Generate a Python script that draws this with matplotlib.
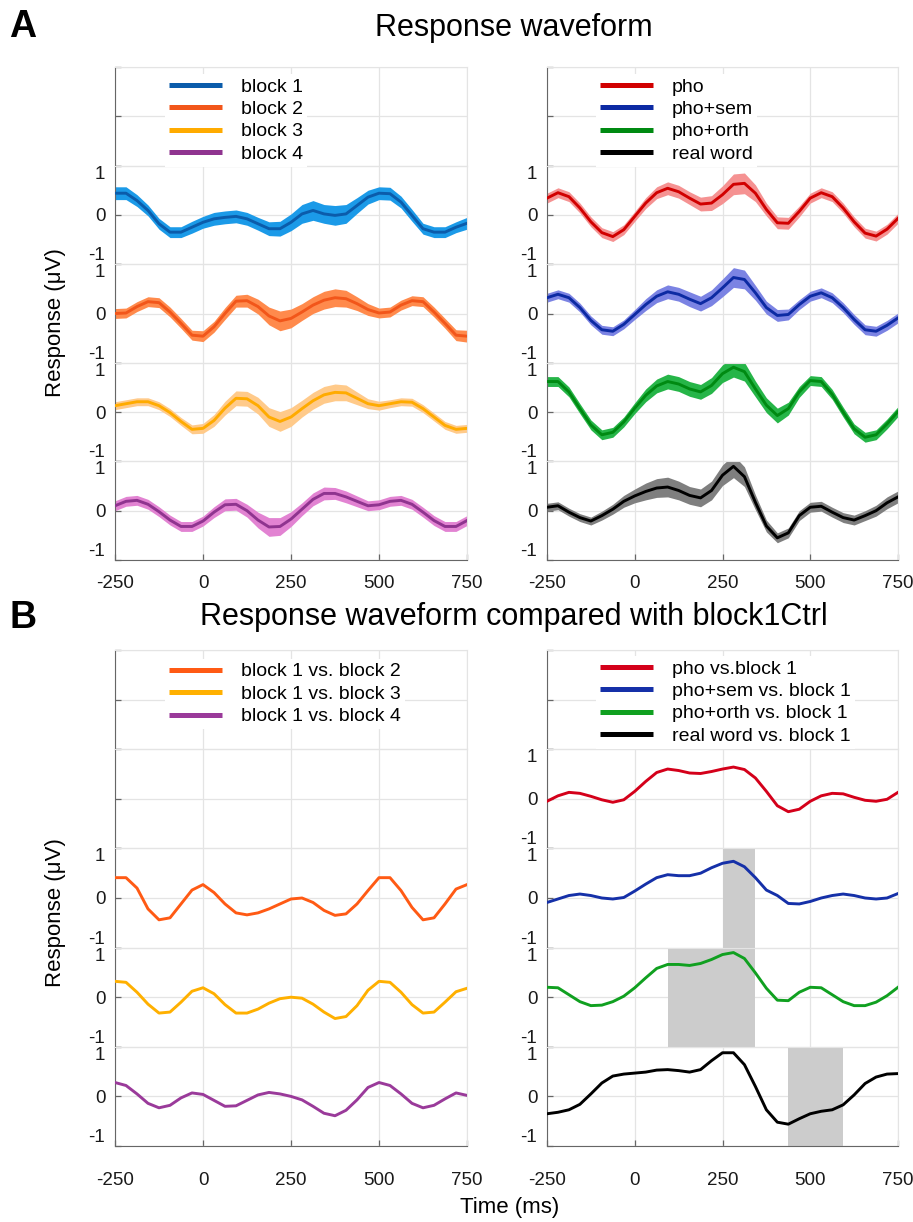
import numpy as np
import matplotlib
matplotlib.use('Agg')
import matplotlib.pyplot as plt
from matplotlib.lines import Line2D

plt.rcParams['font.family'] = ['Liberation Sans', 'DejaVu Sans']

# ---------------- data ----------------
time_ms = [-250.0, -218.75, -187.5, -156.25, -125.0, -93.75, -62.5, -31.25, 0.0,
           31.25, 62.5, 93.75, 125.0, 156.25, 187.5, 218.75, 250.0, 281.25, 312.5,
           343.75, 375.0, 406.25, 437.5, 468.75, 500.0, 531.25, 562.5, 593.75,
           625.0, 656.25, 687.5, 718.75, 750.0]
xtick_vals = [-250, 0, 250, 500, 750]
xtick_labels = ['-250', '0', '250', '500', '750']

# Panel A left: block waveforms (mean) and half-width of shaded band
block_names = ['block 1', 'block 2', 'block 3', 'block 4']
block1 = [0.44, 0.44, 0.29, 0.09, -0.18, -0.35, -0.35, -0.25, -0.15, -0.08, -0.05, -0.03, -0.08,
          -0.18, -0.28, -0.28, -0.15, 0.02, 0.09, 0.02, -0.01, 0.02, 0.19, 0.36, 0.44, 0.43,
          0.26, -0.01, -0.28, -0.35, -0.35, -0.25, -0.17]
block2 = [0.0, 0.01, 0.14, 0.24, 0.22, 0.03, -0.2, -0.44, -0.46, -0.27, 0.0, 0.25, 0.26, 0.14,
          -0.05, -0.15, -0.1, 0.03, 0.17, 0.27, 0.32, 0.3, 0.2, 0.08, 0.01, 0.03, 0.17, 0.26,
          0.24, 0.03, -0.2, -0.44, -0.46]
block3 = [0.13, 0.17, 0.21, 0.21, 0.13, -0.01, -0.19, -0.35, -0.33, -0.17, 0.08, 0.28, 0.27,
          0.13, -0.1, -0.19, -0.1, 0.07, 0.23, 0.35, 0.4, 0.39, 0.28, 0.17, 0.13, 0.17, 0.21,
          0.2, 0.07, -0.1, -0.27, -0.35, -0.33]
block4 = [0.1, 0.19, 0.21, 0.13, -0.02, -0.19, -0.32, -0.32, -0.21, -0.03, 0.12, 0.13, 0.0,
          -0.19, -0.33, -0.32, -0.17, 0.03, 0.23, 0.35, 0.35, 0.28, 0.19, 0.1, 0.12, 0.19, 0.21,
          0.13, -0.03, -0.2, -0.32, -0.32, -0.2]
block1_hw = [0.13, 0.13, 0.12, 0.11, 0.11, 0.11, 0.11, 0.12, 0.12, 0.13, 0.13, 0.13, 0.13, 0.13,
             0.14, 0.15, 0.17, 0.19, 0.2, 0.19, 0.2, 0.19, 0.16, 0.14, 0.13, 0.13, 0.12, 0.12,
             0.11, 0.11, 0.11, 0.11, 0.12]
block2_hw = [0.1, 0.1, 0.1, 0.1, 0.1, 0.1, 0.1, 0.1, 0.11, 0.11, 0.12, 0.12, 0.13, 0.15, 0.18,
             0.2, 0.19, 0.17, 0.17, 0.18, 0.18, 0.17, 0.14, 0.12, 0.1, 0.1, 0.1, 0.1, 0.1, 0.1,
             0.1, 0.11, 0.12]
block3_hw = [0.08, 0.08, 0.08, 0.08, 0.08, 0.08, 0.08, 0.09, 0.1, 0.12, 0.14, 0.15, 0.15, 0.17,
             0.19, 0.2, 0.19, 0.17, 0.17, 0.17, 0.17, 0.16, 0.13, 0.1, 0.09, 0.08, 0.08, 0.08,
             0.08, 0.08, 0.08, 0.08, 0.08]
block4_hw = [0.1, 0.1, 0.1, 0.1, 0.1, 0.1, 0.1, 0.1, 0.1, 0.11, 0.12, 0.12, 0.13, 0.16, 0.19,
             0.18, 0.15, 0.13, 0.13, 0.13, 0.12, 0.12, 0.11, 0.1, 0.1, 0.1, 0.1, 0.1, 0.1, 0.1,
             0.1, 0.1, 0.1]

# Panel A right: condition waveforms
cond_names = ['pho', 'pho+sem', 'pho+orth', 'real word']
pho = [0.34, 0.45, 0.37, 0.14, -0.14, -0.36, -0.44, -0.3, -0.03, 0.24, 0.45, 0.54, 0.47, 0.34,
       0.22, 0.24, 0.41, 0.62, 0.64, 0.44, 0.11, -0.16, -0.17, 0.07, 0.34, 0.45, 0.37, 0.14,
       -0.14, -0.37, -0.43, -0.29, -0.07]
pho_sem = [0.32, 0.39, 0.32, 0.12, -0.14, -0.33, -0.36, -0.22, -0.02, 0.18, 0.35, 0.44, 0.39,
           0.29, 0.2, 0.32, 0.52, 0.73, 0.69, 0.42, 0.12, -0.04, -0.02, 0.18, 0.35, 0.42, 0.32,
           0.12, -0.12, -0.33, -0.36, -0.24, -0.09]
pho_orth = [0.62, 0.62, 0.41, 0.07, -0.26, -0.46, -0.41, -0.2, 0.08, 0.34, 0.53, 0.62, 0.57,
            0.47, 0.41, 0.54, 0.78, 0.91, 0.82, 0.47, 0.14, -0.07, 0.07, 0.41, 0.64, 0.62, 0.36,
            0.0, -0.34, -0.51, -0.46, -0.24, 0.01]
real_word = [0.07, 0.1, -0.03, -0.14, -0.21, -0.1, 0.03, 0.19, 0.3, 0.39, 0.46, 0.48, 0.41,
             0.31, 0.26, 0.41, 0.72, 0.9, 0.69, 0.17, -0.31, -0.55, -0.45, -0.1, 0.07, 0.09,
             -0.03, -0.14, -0.19, -0.1, 0.0, 0.16, 0.28]
pho_hw = [0.1, 0.1, 0.1, 0.1, 0.1, 0.1, 0.1, 0.1, 0.1, 0.11, 0.12, 0.13, 0.13, 0.13, 0.14, 0.15,
          0.18, 0.21, 0.21, 0.17, 0.13, 0.12, 0.12, 0.11, 0.1, 0.1, 0.1, 0.1, 0.1, 0.1, 0.1,
          0.1, 0.1]
pho_sem_hw = [0.09, 0.09, 0.09, 0.09, 0.09, 0.09, 0.09, 0.09, 0.1, 0.12, 0.13, 0.14, 0.14, 0.15,
              0.15, 0.16, 0.18, 0.2, 0.19, 0.15, 0.13, 0.12, 0.11, 0.1, 0.1, 0.1, 0.1, 0.1, 0.1,
              0.1, 0.1, 0.1, 0.1]
pho_orth_hw = [0.1, 0.1, 0.1, 0.1, 0.1, 0.1, 0.1, 0.1, 0.11, 0.13, 0.14, 0.15, 0.15, 0.15, 0.15,
               0.16, 0.18, 0.2, 0.19, 0.16, 0.15, 0.15, 0.13, 0.11, 0.1, 0.1, 0.1, 0.1, 0.1, 0.1,
               0.1, 0.1, 0.1]
real_word_hw = [0.08, 0.08, 0.08, 0.08, 0.08, 0.09, 0.1, 0.12, 0.14, 0.17, 0.19, 0.2, 0.19, 0.18,
                0.18, 0.19, 0.21, 0.23, 0.2, 0.15, 0.12, 0.1, 0.1, 0.1, 0.1, 0.1, 0.1, 0.1, 0.1,
                0.1, 0.11, 0.12, 0.12]

# Panel B left: differences from block 1
diff_block_names = ['block 1 vs. block 2', 'block 1 vs. block 3', 'block 1 vs. block 4']
b1_vs_b2 = [0.41, 0.41, 0.2, -0.22, -0.44, -0.4, -0.12, 0.16, 0.27, 0.11, -0.12, -0.3, -0.34,
            -0.3, -0.22, -0.12, -0.02, 0.0, -0.09, -0.25, -0.35, -0.32, -0.12, 0.15, 0.41, 0.41,
            0.15, -0.19, -0.44, -0.4, -0.12, 0.18, 0.27]
b1_vs_b3 = [0.32, 0.3, 0.1, -0.14, -0.32, -0.3, -0.1, 0.12, 0.19, 0.07, -0.15, -0.32, -0.32,
            -0.24, -0.12, -0.03, 0.0, -0.02, -0.14, -0.3, -0.43, -0.39, -0.17, 0.14, 0.32, 0.3,
            0.1, -0.15, -0.32, -0.3, -0.1, 0.11, 0.18]
b1_vs_b4 = [0.28, 0.22, 0.05, -0.14, -0.23, -0.18, -0.03, 0.07, 0.04, -0.08, -0.2, -0.19, -0.08,
            0.03, 0.08, 0.05, 0.0, -0.07, -0.2, -0.34, -0.39, -0.28, -0.07, 0.18, 0.28, 0.22,
            0.05, -0.14, -0.23, -0.18, -0.05, 0.07, 0.02]

# Panel B right: conditions vs block 1
diff_cond_names = ['pho vs.block 1', 'pho+sem vs. block 1', 'pho+orth vs. block 1',
                   'real word vs. block 1']
pho_vs_b1 = [-0.05, 0.06, 0.13, 0.11, 0.05, -0.02, -0.07, -0.02, 0.15, 0.35, 0.53, 0.6, 0.57,
             0.52, 0.51, 0.55, 0.6, 0.64, 0.59, 0.42, 0.15, -0.14, -0.26, -0.21, -0.05, 0.06,
             0.11, 0.1, 0.03, -0.03, -0.05, -0.01, 0.13]
sem_vs_b1 = [-0.09, -0.02, 0.05, 0.08, 0.05, 0.0, -0.02, 0.01, 0.14, 0.28, 0.41, 0.47, 0.45,
             0.45, 0.5, 0.61, 0.7, 0.74, 0.63, 0.41, 0.16, 0.05, -0.11, -0.12, -0.07, 0.0,
             0.05, 0.08, 0.05, 0.0, -0.02, 0.0, 0.09]
orth_vs_b1 = [0.2, 0.19, 0.05, -0.09, -0.17, -0.16, -0.09, 0.02, 0.19, 0.39, 0.58, 0.66, 0.66,
              0.64, 0.68, 0.76, 0.86, 0.9, 0.78, 0.49, 0.18, -0.06, -0.07, 0.1, 0.2, 0.19, 0.05,
              -0.09, -0.17, -0.17, -0.1, 0.03, 0.2]
word_vs_b1 = [-0.35, -0.32, -0.27, -0.16, 0.05, 0.27, 0.41, 0.45, 0.47, 0.49, 0.53, 0.54, 0.52,
              0.49, 0.54, 0.72, 0.88, 0.88, 0.64, 0.2, -0.27, -0.52, -0.56, -0.45, -0.35, -0.3,
              -0.27, -0.17, 0.03, 0.26, 0.39, 0.45, 0.46]
# significant windows (ms) per condition row, None = no window
sig_windows = [None, (250.0, 343.75), (93.75, 343.75), (437.5, 593.75)]

# ---------------- styling ----------------
A_left_colors = ['#0b5cab', '#f2561a', '#ffab00', '#8f348f']
A_left_fills = ['#1b9ae8', '#ff8a4c', '#ffca8a', '#e283d2']
A_right_colors = ['#d10000', '#0c2aa3', '#008a12', '#000000']
A_right_fills = ['#f59292', '#7b83e3', '#26b548', '#7f7f7f']
B_left_colors = ['#ff5a14', '#ffb000', '#9a3a9a']
B_right_colors = ['#d4001a', '#1530a8', '#10a020', '#000000']

W, H = 913.0, 1222.0
fig = plt.figure(figsize=(W / 100, H / 100), dpi=100)

GRID = '#e4e4e4'
AXC = '#666666'


def fx(px):
    return px / W


def fy(py):
    return 1 - py / H


def make_column(x0, x1, y0, y1, nrows=5):
    axes = []
    h = (y1 - y0) / nrows
    for i in range(nrows):
        top = y0 + i * h
        ax = fig.add_axes([fx(x0), fy(top + h), (x1 - x0) / W, h / H])
        axes.append(ax)
    return axes


def style(ax, labels=True, bottom=False, xpad=10):
    ax.set_xlim(-250, 750)
    ax.set_ylim(-1, 1)
    ax.set_xticks(xtick_vals)
    ax.set_yticks([-1, 0, 1])
    ax.grid(True, color=GRID, lw=0.9)
    ax.set_axisbelow(True)
    ax.spines['top'].set_color(GRID)
    ax.spines['right'].set_color(GRID)
    ax.spines['left'].set_color(AXC)
    if bottom:
        ax.spines['bottom'].set_color(AXC)
    else:
        ax.spines['bottom'].set_visible(False)
    ax.tick_params(direction='in', length=4, width=0.9, color=AXC, labelsize=13.5,
                   labelcolor='#1a1a1a')
    ax.tick_params(axis='y', pad=7)
    if labels:
        ax.set_yticklabels(['-1', '0', '1'])
        ticks = ax.yaxis.get_major_ticks()
        ticks[0].label1.set_va('bottom')
        ticks[2].label1.set_va('top')
    else:
        ax.set_yticklabels([])
    if bottom:
        ax.set_xticklabels(xtick_labels)
        ax.tick_params(axis='x', pad=xpad)
    else:
        ax.tick_params(axis='x', length=0, labelbottom=False)


def add_legend(names, colors, x_px, y_px):
    handles = [Line2D([0], [0], color=c, lw=3.6, solid_capstyle='butt') for c in colors]
    leg = fig.legend(handles, names, loc='upper left',
                     bbox_to_anchor=(fx(x_px), fy(y_px)), bbox_transform=fig.transFigure,
                     fontsize=14, handlelength=2.75, handletextpad=0.95, labelspacing=0.25,
                     borderpad=0.2, borderaxespad=0, frameon=True, fancybox=False,
                     facecolor='white', edgecolor='none', framealpha=1)
    leg.set_zorder(5)
    return leg


# ---------------- Panel A ----------------
LX0, LX1 = 115, 467
RX0, RX1 = 547, 898

A_left = make_column(LX0, LX1, 67, 560)
A_right = make_column(RX0, RX1, 67, 560)

for i, ax in enumerate(A_left):
    style(ax, labels=(i > 0), bottom=(i == 4), xpad=11)
for i, ax in enumerate(A_right):
    style(ax, labels=(i > 0), bottom=(i == 4), xpad=11)

block_series = [block1, block2, block3, block4]
block_hws = [block1_hw, block2_hw, block3_hw, block4_hw]
for k in range(4):
    ax = A_left[k + 1]
    m = np.array(block_series[k])
    hw = np.array(block_hws[k])
    ax.fill_between(time_ms, m - hw, m + hw, color=A_left_fills[k], lw=0, zorder=2)
    ax.plot(time_ms, m, color=A_left_colors[k], lw=2.1, zorder=3)

cond_series = [pho, pho_sem, pho_orth, real_word]
cond_hws = [pho_hw, pho_sem_hw, pho_orth_hw, real_word_hw]
for k in range(4):
    ax = A_right[k + 1]
    m = np.array(cond_series[k])
    hw = np.array(cond_hws[k])
    ax.fill_between(time_ms, m - hw, m + hw, color=A_right_fills[k], lw=0, zorder=2)
    ax.plot(time_ms, m, color=A_right_colors[k], lw=2.1, zorder=3)

add_legend(block_names, A_left_colors, 165, 74)
add_legend(cond_names, A_right_colors, 596, 74)

# ---------------- Panel B ----------------
B_left = make_column(LX0, LX1, 650, 1146)
B_right = make_column(RX0, RX1, 650, 1146)

for i, ax in enumerate(B_left):
    style(ax, labels=(i > 1), bottom=(i == 4), xpad=19)
for i, ax in enumerate(B_right):
    style(ax, labels=(i > 0), bottom=(i == 4), xpad=19)

diff_blocks = [b1_vs_b2, b1_vs_b3, b1_vs_b4]
for k in range(3):
    B_left[k + 2].plot(time_ms, diff_blocks[k], color=B_left_colors[k], lw=2.1, zorder=3)

diff_conds = [pho_vs_b1, sem_vs_b1, orth_vs_b1, word_vs_b1]
for k in range(4):
    ax = B_right[k + 1]
    if sig_windows[k] is not None:
        ax.axvspan(sig_windows[k][0], sig_windows[k][1], color='#cccccc', lw=0, zorder=1.5)
    ax.plot(time_ms, diff_conds[k], color=B_right_colors[k], lw=2.1, zorder=3)

add_legend(diff_block_names, B_left_colors, 165, 659)
add_legend(diff_cond_names, B_right_colors, 596, 656)

# ---------------- texts ----------------
fig.text(fx(23), fy(27), 'A', fontsize=27, fontweight='bold', ha='center', va='center')
fig.text(fx(23), fy(618), 'B', fontsize=27, fontweight='bold', ha='center', va='center')
fig.text(fx(514), fy(28), 'Response waveform', fontsize=22, ha='center', va='center')
fig.text(fx(514), fy(617), 'Response waveform compared with block1Ctrl', fontsize=22,
         ha='center', va='center')
fig.text(fx(55), fy(323), 'Response (\u03bcV)', fontsize=16, rotation=90, ha='center',
         va='center')
fig.text(fx(55), fy(913), 'Response (\u03bcV)', fontsize=16, rotation=90, ha='center',
         va='center')
fig.text(fx(510), fy(1208), 'Time (ms)', fontsize=16, ha='center', va='center')

fig.savefig('out.png', dpi=100, facecolor='white')
